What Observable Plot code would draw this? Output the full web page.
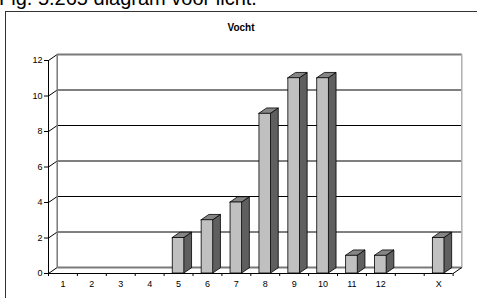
<!DOCTYPE html>
<html>
<head>
<meta charset="utf-8">
<script src="https://cdn.jsdelivr.net/npm/d3@7"></script>
<script src="https://cdn.jsdelivr.net/npm/@observablehq/plot@0.6"></script>
<style>
  body { margin: 0; background: white; overflow: hidden; }
  #wrap { position: relative; width: 477px; height: 298px; overflow: hidden; font-family: "Liberation Sans", Arial, sans-serif; }
  #chart { position: absolute; left: 0; top: 0; }
  #caption { position: absolute; left: -1px; top: -12.5px; font-size: 20px; line-height: 20px; white-space: nowrap; color: #000; }
  #frame { position: absolute; left: 4.5px; top: 10.5px; width: 600px; height: 400px; border-top: 1.5px solid #333; border-left: 1.5px solid #333; }
  #title { position: absolute; left: 0; width: 482px; top: 22.5px; text-align: center; font-size: 10px; line-height: 10px; font-weight: bold; }
</style>
</head>
<body>
<div id="wrap">
  <div id="chart"></div>
  <div id="caption">Fig. 5.265 diagram voor licht.</div>
  <div id="frame"></div>
  <div id="title">Vocht</div>
</div>
<script>
const categories = ["1","2","3","4","5","6","7","8","9","10","11","12","","X"];
const values = [0,0,0,0,2,3,4,9,11,11,1,1,0,2];
const yTicks = [0,2,4,6,8,10,12];

const W = 477, H = 298, ml = 48, mr = 24.4, mt = 60, mb = 25;
const n = categories.length;
const pxX = (W - ml - mr) / n, pxY = (H - mt - mb) / 12;
// 3D offsets (pixels -> data units)
const WX = 8.7 / pxX, WY = 6 / pxY;   // back wall depth
const BX = 7.7 / pxX, BY = 5.3 / pxY; // bar depth
const HALF = 5.8 / pxX;               // half width of bar front

const bars = categories.map((c, i) => ({c, i, v: values[i], cx: i + 0.5})).filter(d => d.v > 0);
const sideFaces = bars.flatMap(d => [
  {z: d.i, x: d.cx + HALF, y1: 0, y2: d.v},
  {z: d.i, x: d.cx + HALF + BX, y1: BY, y2: d.v + BY}
]);
const topFaces = bars.flatMap(d => [
  {z: d.i, y: d.v, x1: d.cx - HALF, x2: d.cx + HALF},
  {z: d.i, y: d.v + BY, x1: d.cx - HALF + BX, x2: d.cx + HALF + BX}
]);
const inner = yTicks.filter(t => t > 0 && t < 12);

const chart = Plot.plot({
  width: W, height: H,
  marginLeft: ml, marginRight: mr, marginTop: mt, marginBottom: mb,
  style: {background: "transparent", fontFamily: "Liberation Sans, Arial, sans-serif", fontSize: "9px", color: "black"},
  x: {type: "linear", domain: [0, n]},
  y: {type: "linear", domain: [0, 12]},
  marks: [
    Plot.link(inner, {x1: WX, x2: n + WX, y1: d => d + WY, y2: d => d + WY, stroke: "black", strokeWidth: 1}),
    Plot.link(yTicks, {x1: 0, x2: WX, y1: d => d, y2: d => d + WY, stroke: "black", strokeWidth: 1}),
    Plot.link([12, 0], {x1: WX, x2: n + WX, y1: d => d + WY, y2: d => d + WY, stroke: "#7a7a7a", strokeWidth: 2}),
    Plot.link([0], {x1: WX, x2: WX, y1: WY, y2: 12 + WY, stroke: "#7a7a7a", strokeWidth: 1.5}),
    Plot.link([n], {x1: d => d + WX, x2: d => d + WX, y1: WY, y2: 12 + WY, stroke: "#b0b0b0", strokeWidth: 1.5}),
    Plot.link([n], {x1: d => d, x2: d => d + WX, y1: 0, y2: WY, stroke: "black", strokeWidth: 1}),
    Plot.areaY(sideFaces, {x: "x", y1: "y1", y2: "y2", z: "z", fill: "#5f5f5f", stroke: "black", strokeWidth: 0.8}),
    Plot.areaX(topFaces, {y: "y", x1: "x1", x2: "x2", z: "z", fill: "#858585", stroke: "black", strokeWidth: 0.8}),
    Plot.rect(bars, {x1: d => d.cx - HALF, x2: d => d.cx + HALF, y1: 0, y2: "v", fill: "#c0c0c0", stroke: "black", strokeWidth: 0.8}),
    Plot.ruleY([0], {x1: 0, x2: n, stroke: "black", strokeWidth: 1}),
    Plot.ruleX([0], {y1: 0, y2: 12, stroke: "black", strokeWidth: 1}),
    Plot.axisY({ticks: yTicks, tickSize: 4, tickPadding: 2, label: null, fontSize: 9, fill: "black"}),
    Plot.axisX({ticks: d3.range(0, n + 1), tickSize: 3, tickFormat: () => "", label: null}),
    Plot.axisX({ticks: d3.range(n).map(i => i + 0.5), tickSize: 0, tickPadding: 7, tickFormat: d => categories[Math.floor(d)], label: null, fontSize: 9, fill: "black"})
  ]
});
document.getElementById("chart").appendChild(chart);
</script>
</body>
</html>
